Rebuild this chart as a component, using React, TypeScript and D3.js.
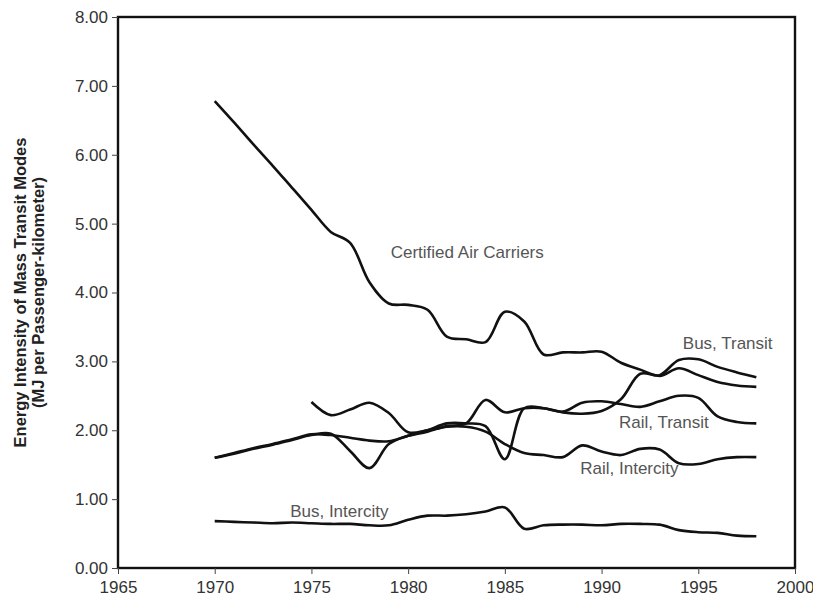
import { useEffect, useRef } from 'react';
import * as d3 from 'd3';

// years shared by the annual series
const years = d3.range(1970, 1999);
const railIntercityYears = d3.range(1975, 1999);

// MJ per passenger-kilometer
const airCarriers = [6.78, 6.47, 6.15, 5.84, 5.52, 5.20, 4.88, 4.72, 4.15, 3.84, 3.82, 3.75, 3.36, 3.32, 3.28, 3.72, 3.58, 3.10, 3.13, 3.13, 3.14, 2.98, 2.88, 2.79, 2.90, 2.80, 2.70, 2.65, 2.63];
const busTransit = [1.60, 1.66, 1.73, 1.79, 1.86, 1.93, 1.95, 1.70, 1.45, 1.80, 1.92, 2.00, 2.10, 2.10, 2.06, 1.58, 2.32, 2.32, 2.26, 2.24, 2.28, 2.45, 2.82, 2.80, 3.02, 3.03, 2.92, 2.84, 2.77];
const railTransit = [1.60, 1.67, 1.74, 1.80, 1.87, 1.94, 1.93, 1.89, 1.85, 1.84, 1.92, 1.98, 2.06, 2.10, 2.44, 2.26, 2.32, 2.32, 2.27, 2.40, 2.42, 2.38, 2.34, 2.42, 2.50, 2.47, 2.20, 2.12, 2.10];
const railIntercity = [2.41, 2.22, 2.30, 2.40, 2.25, 1.97, 2.00, 2.05, 2.05, 1.98, 1.80, 1.67, 1.64, 1.61, 1.78, 1.69, 1.64, 1.73, 1.72, 1.52, 1.51, 1.58, 1.61, 1.61];
const busIntercity = [0.68, 0.67, 0.66, 0.65, 0.66, 0.65, 0.64, 0.64, 0.62, 0.62, 0.70, 0.76, 0.76, 0.78, 0.82, 0.88, 0.57, 0.62, 0.63, 0.63, 0.62, 0.64, 0.64, 0.63, 0.55, 0.52, 0.51, 0.47, 0.46];

const xTicks = [1965, 1970, 1975, 1980, 1985, 1990, 1995, 2000];
const yTicks = [0, 1, 2, 3, 4, 5, 6, 7, 8];

// series labels, anchored in data space
const labels = [
    { text: 'Certified Air Carriers', year: 1979.1, value: 4.5 },
    { text: 'Bus, Transit', year: 1994.2, value: 3.18 },
    { text: 'Rail, Transit', year: 1990.9, value: 2.03 },
    { text: 'Rail, Intercity', year: 1988.9, value: 1.37 },
    { text: 'Bus, Intercity', year: 1973.9, value: 0.74 },
];

export default function App() {
    const svgRef = useRef<SVGSVGElement>(null);

    useEffect(() => {
        if (!svgRef.current) return;
        const svg = d3.select(svgRef.current);
        svg.selectAll('*').remove();

        const width = 813;
        const height = 606;
        const margin = { top: 17, right: 18, bottom: 38, left: 118 };
        const font = 'Liberation Sans, Arial, sans-serif';

        const x = d3.scaleLinear().domain([1965, 2000]).range([margin.left, width - margin.right]);
        const y = d3.scaleLinear().domain([0, 8]).range([height - margin.bottom, margin.top]);

        const series = [
            { xs: years, ys: airCarriers },
            { xs: years, ys: busTransit },
            { xs: years, ys: railTransit },
            { xs: railIntercityYears, ys: railIntercity },
            { xs: years, ys: busIntercity },
        ];

        const line = d3.line<[number, number]>()
            .x(d => x(d[0]))
            .y(d => y(d[1]))
            .curve(d3.curveCatmullRom.alpha(0.5));

        series.forEach(s => {
            svg.append('path')
                .attr('d', line(s.xs.map((yr, i) => [yr, s.ys[i]] as [number, number])) as string)
                .attr('fill', 'none')
                .attr('stroke', '#111')
                .attr('stroke-width', 2.6)
                .attr('stroke-linejoin', 'round');
        });

        // frame
        svg.append('rect')
            .attr('x', margin.left)
            .attr('y', margin.top)
            .attr('width', width - margin.left - margin.right)
            .attr('height', height - margin.top - margin.bottom)
            .attr('fill', 'none')
            .attr('stroke', '#111')
            .attr('stroke-width', 2.4);

        // x axis
        const xAxis = svg.append('g')
            .attr('transform', `translate(0,${height - margin.bottom})`)
            .call(d3.axisBottom(x).tickValues(xTicks).tickFormat(d3.format('d')).tickSizeOuter(0).tickSize(6).tickPadding(7));
        xAxis.select('.domain').remove();
        xAxis.selectAll('line').attr('stroke', '#444');
        xAxis.selectAll('text')
            .attr('font-family', font)
            .attr('font-size', 17)
            .attr('fill', '#333');

        // y axis
        const yAxis = svg.append('g')
            .attr('transform', `translate(${margin.left},0)`)
            .call(d3.axisLeft(y).tickValues(yTicks).tickFormat(d3.format('.2f')).tickSizeOuter(0).tickSize(6).tickPadding(4));
        yAxis.select('.domain').remove();
        yAxis.selectAll('line').attr('stroke', '#444');
        yAxis.selectAll('text')
            .attr('font-family', font)
            .attr('font-size', 17)
            .attr('fill', '#333');

        // y axis title, two lines
        const cy = (margin.top + height - margin.bottom) / 2;
        [
            { text: 'Energy Intensity of Mass Transit Modes', x: 26 },
            { text: '(MJ per Passenger-kilometer)', x: 44 },
        ].forEach(t => {
            svg.append('text')
                .attr('transform', `translate(${t.x},${cy}) rotate(-90)`)
                .attr('text-anchor', 'middle')
                .attr('font-family', font)
                .attr('font-size', 16.5)
                .attr('font-weight', 'bold')
                .attr('fill', '#222')
                .text(t.text);
        });

        // in-plot labels
        labels.forEach(l => {
            svg.append('text')
                .attr('x', x(l.year))
                .attr('y', y(l.value))
                .attr('font-family', font)
                .attr('font-size', 17)
                .attr('fill', '#555')
                .text(l.text);
        });
    }, []);

    return (
        <svg
            ref={svgRef}
            width={813}
            height={606}
            style={{ position: 'absolute', left: 0, top: 0, background: '#fff' }}
        />
    );
}
